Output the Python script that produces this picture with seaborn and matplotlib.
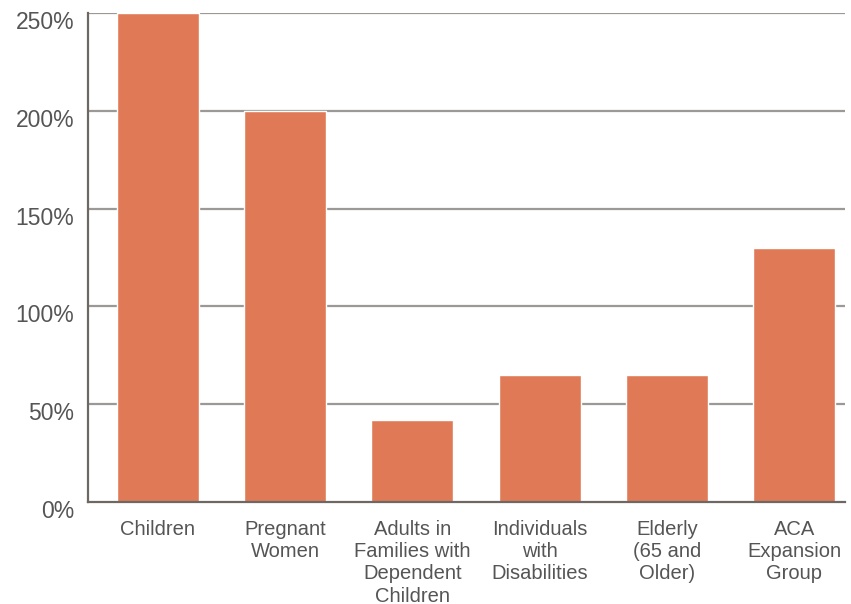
import matplotlib
matplotlib.use("Agg")
import matplotlib.pyplot as plt
import matplotlib.transforms as mtransforms
import seaborn as sns
import pandas as pd

categories = ["Children", "Pregnant\nWomen", "Adults in\nFamilies with\nDependent\nChildren",
              "Individuals\nwith\nDisabilities", "Elderly\n(65 and\nOlder)", "ACA\nExpansion\nGroup"]
values = [250, 200, 42, 65, 65, 130]
yticks = [0, 50, 100, 150, 200, 250]
ytick_labels = ["0%", "50%", "100%", "150%", "200%", "250%"]

sns.set_theme(style="white")
plt.rcParams["font.family"] = ["Liberation Sans", "DejaVu Sans"]

df = pd.DataFrame({"cat": categories, "val": values})

fig = plt.figure(figsize=(8.51, 6.04), dpi=100)
ax = fig.add_axes([88 / 851, 1 - 501.7 / 604, (845 - 88) / 851, (501.7 - 13.3) / 604])

sns.barplot(data=df, x="cat", y="val", color="#E07A56", width=0.645, saturation=1,
            ax=ax, zorder=3)

ax.set_ylim(0, 250)
ax.set_xlim(-0.55, 5.4)
ax.set_yticks(yticks)
ax.set_yticklabels(ytick_labels)
ax.set_xlabel("")
ax.set_ylabel("")

for y in yticks[1:]:
    ax.axhline(y, color="#9c9896", lw=1.6, zorder=1)

for s in ["top", "right"]:
    ax.spines[s].set_visible(False)
for s in ["left", "bottom"]:
    ax.spines[s].set_visible(True)
    ax.spines[s].set_color("#6e6864")
    ax.spines[s].set_linewidth(1.6)
    ax.spines[s].set_zorder(4)

ax.tick_params(axis="y", length=0, pad=10, labelsize=16.5, labelcolor="#555555")
ax.tick_params(axis="x", length=0, pad=13, labelsize=14.5, labelcolor="#555555")
offset = mtransforms.ScaledTranslation(0, -7 / 100, fig.dpi_scale_trans)
for lbl in ax.get_yticklabels():
    lbl.set_transform(lbl.get_transform() + offset)
for lbl in ax.get_xticklabels():
    lbl.set_linespacing(1.22)
ax.grid(False)

fig.savefig("out.png", dpi=100, facecolor="white")
